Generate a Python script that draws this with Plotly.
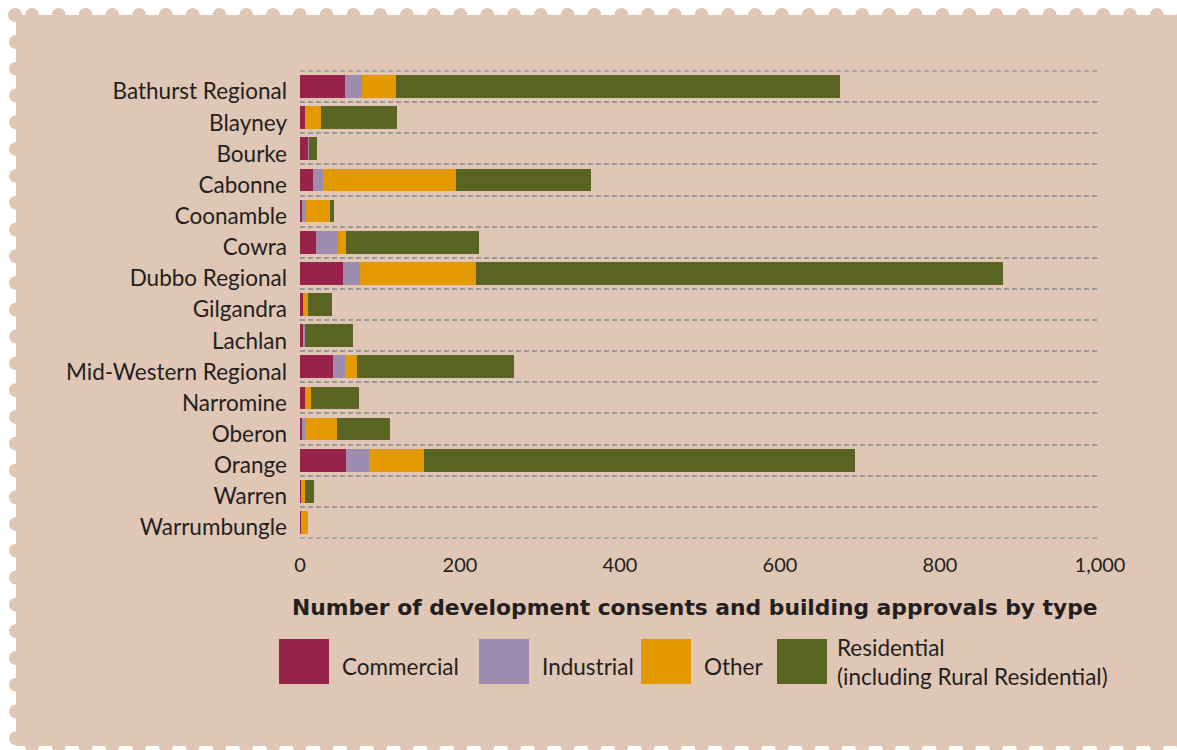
import plotly.graph_objects as go

# ---- data ----
councils = ["Bathurst Regional", "Blayney", "Bourke", "Cabonne", "Coonamble", "Cowra",
            "Dubbo Regional", "Gilgandra", "Lachlan", "Mid-Western Regional", "Narromine",
            "Oberon", "Orange", "Warren", "Warrumbungle"]
commercial = [56, 6, 10, 16, 2.5, 20, 54, 4, 4, 41, 6, 2.5, 57, 1.3, 1.3]
industrial = [21, 0, 1, 13, 5, 27, 21, 0.5, 2.5, 15, 0, 3.7, 29, 1.2, 0]
other = [43, 20, 0, 166, 30, 10, 145, 5, 0, 15, 7.5, 40, 69, 3.7, 8.7]
residential = [555, 95, 10, 169, 5, 167, 659, 31, 60, 196, 60, 66, 539, 11, 0]
x_ticks = [0, 200, 400, 600, 800, 1000]

series_names = ["Commercial", "Industrial", "Other", "Residential<br>(including Rural Residential)"]
series_vals = [commercial, industrial, other, residential]
colors = ["#97234B", "#9E8BB0", "#E39A00", "#5A6523"]

BG = "#E0C6B4"
TXT = "#231F20"
FONT = "Lato"
GRID = "#9E9994"

W, H = 1177, 750
L, R, T, B = 300, 77, 71, 212
PW, PH = W - L - R, H - T - B


def px2x(px):
    return (px - L) / PW


def px2y(py):
    return (H - B - py) / PH


fig = go.Figure()
for name, vals, col in zip(series_names, series_vals, colors):
    fig.add_trace(go.Bar(y=councils, x=vals, orientation="h", name=name,
                         marker=dict(color=col, line=dict(width=0)), showlegend=False))

shapes = []
# stamp background
shapes.append(dict(type="rect", xref="paper", yref="paper", layer="below",
                   x0=px2x(16), x1=px2x(1200), y0=px2y(15), y1=px2y(746),
                   fillcolor=BG, line=dict(width=0)))
r = 7
rx, ry = r / PW, r / PH


def circ(cx, cy):
    return dict(type="circle", xref="paper", yref="paper", layer="below",
                x0=px2x(cx) - rx, x1=px2x(cx) + rx, y0=px2y(cy) - ry, y1=px2y(cy) + ry,
                fillcolor=BG, line=dict(width=0))


step = 26.78
shapes.append(circ(15, 15))
k = 0
while 32 + step * k < 1195:
    cx = 32 + step * k
    shapes.append(circ(cx, 15))
    shapes.append(circ(cx, 746))
    k += 1
k = 0
while 42 + step * k < 760:
    shapes.append(circ(16, 42 + step * k))
    k += 1

# outer dashed boundary lines (top and bottom of category bands)
for yy in (0, 1):
    shapes.append(dict(type="line", xref="paper", yref="paper", layer="below",
                       x0=0, x1=1, y0=yy, y1=yy,
                       line=dict(color=GRID, width=1.5, dash="5px,3px")))

# legend swatches
sw_left = [279, 479, 641, 777]
txt_left = [340, 540, 702, 835]
for xl, col in zip(sw_left, colors):
    shapes.append(dict(type="rect", xref="paper", yref="paper",
                       x0=px2x(xl), x1=px2x(xl + 50), y0=px2y(684), y1=px2y(639),
                       fillcolor=col, line=dict(width=0)))

annotations = []
for i, (xl, name) in enumerate(zip(txt_left, series_names)):
    yc = 666 if i < 3 else 662
    annotations.append(dict(text=name, xref="paper", yref="paper", x=px2x(xl), y=px2y(yc),
                            xanchor="left", yanchor="middle", align="left", showarrow=False,
                            font=dict(family=FONT, size=22.5, color=TXT)))
annotations.append(dict(text="<b>Number of development consents and building approvals by type</b>",
                        xref="paper", yref="paper", x=px2x(695), y=px2y(607),
                        xanchor="center", yanchor="middle", showarrow=False,
                        font=dict(family="DejaVu Sans", size=21.8, color=TXT)))

fig.update_layout(
    width=W, height=H,
    margin=dict(l=L, r=R, t=T, b=B, pad=0),
    paper_bgcolor="white", plot_bgcolor=BG,
    barmode="stack", bargap=0.27,
    font=dict(family=FONT, size=20, color=TXT),
    shapes=shapes, annotations=annotations,
    xaxis=dict(range=[0, 1000], tickvals=x_ticks, tickformat=",", showgrid=False,
               zeroline=False, showline=False, ticks="outside", ticklen=9,
               tickcolor="rgba(0,0,0,0)", tickfont=dict(family=FONT, size=20, color=TXT)),
    yaxis=dict(autorange="reversed", type="category", tickson="boundaries",
               showgrid=True, gridcolor=GRID, gridwidth=1.5, griddash="5px,3px",
               ticks="", showline=False, zeroline=False, ticklabelstandoff=12,
               ticklabelshift=-5,
               tickfont=dict(family=FONT, size=22.5, color=TXT)),
)

fig.write_html("out.html", config={"displayModeBar": False},
               post_script="document.body.style.margin='0';")
